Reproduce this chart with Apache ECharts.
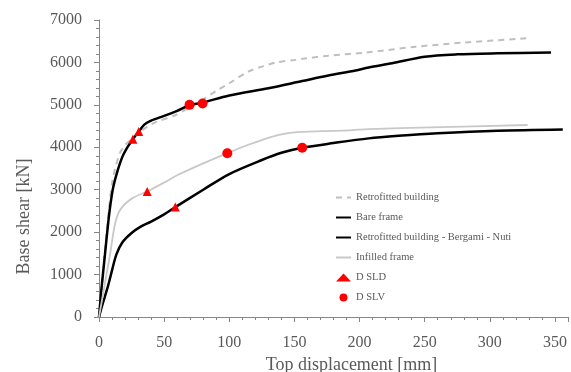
<!DOCTYPE html>
<html>
<head>
<meta charset="utf-8">
<script src="https://cdn.jsdelivr.net/npm/echarts@6/dist/echarts.min.js"></script>
<style>
  html, body { margin: 0; padding: 0; background: #fff; }
  #main { width: 571px; height: 372px; }
</style>
</head>
<body>
<div id="main"></div>
<script>
// curves: [top displacement mm, base shear kN]
var retrofitted = [[0,0],[2,700],[4,1400],[6,2050],[8,2650],[10,3150],[12,3450],[16,3860],[20,4050],[24,4170],[30,4330],[37,4480],[44,4600],[58,4750],[70,4950],[79,5110],[90,5330],[100,5510],[115,5790],[125,5900],[136,6000],[151,6060],[158,6090],[176,6160],[204,6230],[243,6370],[281,6470],[328,6570]];
var bareFrame = [[0,0],[3,330],[7,740],[10,1100],[13.3,1470],[18,1760],[25,1980],[32,2130],[40,2250],[50,2420],[58.6,2590],[80,3000],[100,3370],[125,3700],[140,3870],[156,3990],[180,4100],[207,4210],[230,4270],[260,4330],[306,4390],[356,4420]];
var bergamiNuti = [[0,0],[2,700],[4.4,1420],[7,2200],[9,2700],[11,3070],[14,3420],[18,3780],[22,4010],[26,4190],[30.5,4370],[35,4540],[40,4630],[50,4740],[60,4860],[69.3,4990],[79,5050],[100,5220],[130,5390],[156,5560],[176,5690],[197,5810],[207,5880],[225,5980],[250,6135],[275,6190],[306,6215],[347,6235]];
var infilled = [[0,0],[3,520],[6,1050],[8.2,1420],[10,1780],[12,2150],[14,2380],[17,2560],[25,2790],[37,2960],[50,3170],[60,3340],[80,3620],[98.5,3860],[112,4030],[125,4170],[138,4290],[150,4350],[171,4380],[192,4400],[207,4430],[255,4470],[329,4525]];
var dSLD = [[26,4190],[30.5,4370],[37,2960],[58.6,2590]];
var dSLV = [[69.5,5000],[79.5,5030],[98.5,3860],[156,3990]];

var xTicks = [0, 360];
var yTicks = [0, 7000];

var chart = echarts.init(document.getElementById('main'));
var font = 'Liberation Serif';
var txt = '#595959';
var axisCol = '#868686';
var noSymbol = { opacity: 0 };

var option = {
    animation: false,
    grid: { left: 99, right: 3, top: 20, bottom: 55, containLabel: false, outerBoundsMode: 'none' },
    legend: {
        orient: 'vertical',
        left: 330,
        top: 187,
        itemGap: 9,
        itemWidth: 15,
        itemHeight: 8,
        textStyle: { fontFamily: font, fontSize: 10.5, color: txt },
        data: [
            { name: 'Retrofitted building', itemStyle: noSymbol },
            { name: 'Bare frame', itemStyle: noSymbol },
            { name: 'Retrofitted building - Bergami - Nuti', itemStyle: noSymbol },
            { name: 'Infilled frame', itemStyle: noSymbol },
            'D SLD',
            'D SLV'
        ]
    },
    xAxis: [
        {
            type: 'value',
            min: xTicks[0],
            max: xTicks[1],
            interval: 10,
            name: 'Top displacement [mm]',
            nameLocation: 'middle',
            nameGap: 34,
            nameTextStyle: { fontFamily: font, fontSize: 18, color: txt, padding: [0, 0, 0, 36] },
            axisLine: { lineStyle: { color: axisCol, width: 1 } },
            axisTick: { length: 3, lineStyle: { color: axisCol } },
            splitLine: { show: false },
            axisLabel: {
                fontFamily: font, fontSize: 16, color: txt, margin: 18,
                formatter: function (v) { return (v % 50 === 0 && v <= 350) ? String(v) : ''; }
            }
        },
        {
            // longer major ticks every 50 mm
            type: 'value',
            position: 'bottom',
            min: xTicks[0],
            max: xTicks[1],
            interval: 50,
            axisLine: { show: false },
            axisTick: { length: 5, lineStyle: { color: axisCol } },
            axisLabel: { show: false },
            splitLine: { show: false }
        }
    ],
    yAxis: {
        type: 'value',
        min: yTicks[0],
        max: yTicks[1],
        interval: 1000,
        name: 'Base shear [kN]',
        nameLocation: 'middle',
        nameGap: 66,
        nameTextStyle: { fontFamily: font, fontSize: 18, color: txt, padding: [0, 96, 0, 0] },
        axisLine: { show: true, lineStyle: { color: axisCol, width: 1 } },
        axisTick: { show: true, length: 5, lineStyle: { color: axisCol } },
        minorTick: { show: true, splitNumber: 5, length: 3, lineStyle: { color: axisCol } },
        splitLine: { show: false },
        axisLabel: {
            fontFamily: font, fontSize: 16, color: txt, margin: 17,
            formatter: function (v) { return String(v); }
        }
    },
    series: [
        {
            name: 'Retrofitted building',
            type: 'line',
            data: retrofitted,
            symbol: 'none',
            smooth: 0.3,
            lineStyle: { color: '#bfbfbf', width: 2, type: [6, 5] },
            itemStyle: { color: '#bfbfbf' }
        },
        {
            name: 'Bare frame',
            type: 'line',
            data: bareFrame,
            symbol: 'none',
            smooth: 0.3,
            lineStyle: { color: '#000', width: 2.5 },
            itemStyle: { color: '#000' }
        },
        {
            name: 'Retrofitted building - Bergami - Nuti',
            type: 'line',
            data: bergamiNuti,
            symbol: 'none',
            smooth: 0.3,
            lineStyle: { color: '#000', width: 2.5 },
            itemStyle: { color: '#000' }
        },
        {
            name: 'Infilled frame',
            type: 'line',
            data: infilled,
            symbol: 'none',
            smooth: 0.3,
            lineStyle: { color: '#c8c8c8', width: 1.8 },
            itemStyle: { color: '#c8c8c8' }
        },
        {
            name: 'D SLD',
            type: 'scatter',
            data: dSLD,
            symbol: 'triangle',
            symbolSize: 9,
            itemStyle: { color: '#ff0000', opacity: 1 },
            z: 5
        },
        {
            name: 'D SLV',
            type: 'scatter',
            data: dSLV,
            symbol: 'circle',
            symbolSize: 10,
            itemStyle: { color: '#ff0000', opacity: 1 },
            z: 5
        }
    ]
};
chart.setOption(option);
</script>
</body>
</html>
